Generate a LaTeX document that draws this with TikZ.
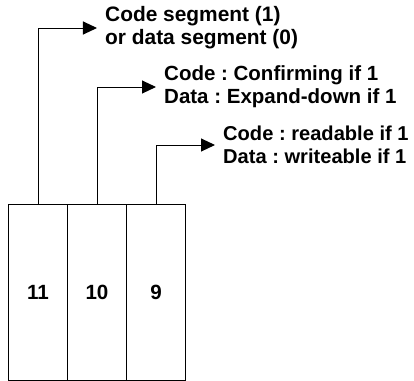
\documentclass[tikz,border=0pt]{standalone}
\usepackage{fontspec}
\setmainfont{Liberation Sans}
\usetikzlibrary{arrows.meta}
\begin{document}
\frenchspacing
\begin{tikzpicture}[x=1bp,y=-1bp,
  txt/.style={font=\fontsize{#1}{23bp}\selectfont\bfseries},
  txt/.default=20.6bp,
  every node/.style={txt},
  bitcell/.style={draw=black, line width=1bp, minimum width=59bp, minimum height=176bp, inner sep=0pt, anchor=north west},
  note/.style={anchor=west, align=left, inner xsep=8bp, inner ysep=0pt},
  pointer/.style={draw=black, line width=1bp, -{Triangle[length=14bp,width=13bp]}}]
  \useasboundingbox (0,0) rectangle (414,381);
  % bit fields 11, 10, 9
  \node[bitcell] (c11) at (8,204) {11};
  \node[bitcell] (c10) at (67,204) {10};
  \node[bitcell] (c9)  at (126,204) {9};
  % descriptions
  \node[note, txt=20.9bp] (t1) at (97,28)  {Code segment (1)\\or data segment (0)};
  \node[note, txt=20.5bp] (t2) at (156,87) {Code : Confirming if 1\\Data : Expand-down if 1};
  \node[note, txt=20.1bp] (t3) at (215,145) {Code : readable if 1\\Data : writeable if 1};
  % pointers from each bit to its meaning
  \draw[pointer] (c11.north) |- (t1.west);
  \draw[pointer] (c10.north) |- (t2.west);
  \draw[pointer] (c9.north) |- (t3.west);
\end{tikzpicture}
\end{document}
